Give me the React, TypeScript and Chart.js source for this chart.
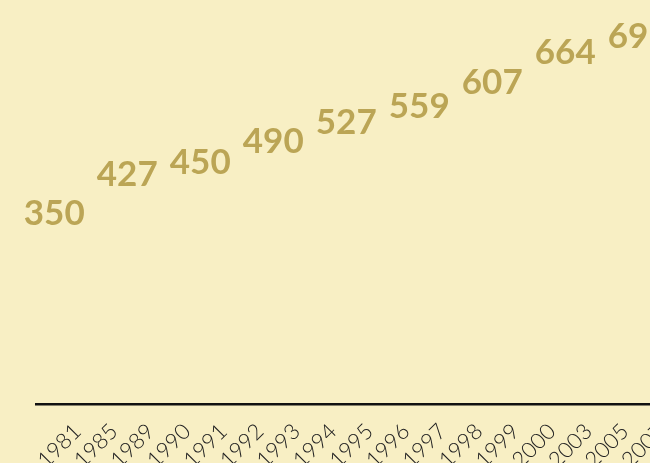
import React, { useEffect, useRef } from 'react';
import { Chart, registerables } from 'chart.js';

Chart.register(...registerables);

// Category labels (first category has no year label)
const years: string[] = ['', '1981', '1985', '1989', '1990', '1991', '1992', '1993', '1994', '1995', '1996', '1997', '1998', '1999', '2000', '2003', '2005', '2007'];
// Values shown as labels (null where no label is shown)
const values: (number | null)[] = [350, null, 427, null, 450, null, 490, null, 527, null, 559, null, 607, null, 664, null, 695, null];

const BG = '#F8EFC4';
const LABEL_COLOR = '#BBA555';
const AXIS_COLOR = '#111111';
const TICK_COLOR = '#222222';

const valueLabels = {
  id: 'valueLabels',
  afterDatasetsDraw(chart: any) {
    const ctx = chart.ctx;
    const meta = chart.getDatasetMeta(0);
    const xs = chart.scales.x;
    const step = xs.getPixelForValue(1) - xs.getPixelForValue(0);
    ctx.save();
    ctx.font = 'bold 35px Lato';
    ctx.fillStyle = LABEL_COLOR;
    ctx.textAlign = 'center';
    ctx.textBaseline = 'alphabetic';
    meta.data.forEach((el: any, i: number) => {
      const v = values[i];
      if (v == null) return;
      ctx.fillText(String(v), el.x + step * 0.5, el.y);
    });
    ctx.restore();
  },
};

export default function App() {
  const ref = useRef<HTMLCanvasElement | null>(null);
  useEffect(() => {
    if (!ref.current) return;
    const chart = new Chart(ref.current, {
      type: 'line',
      data: {
        labels: years,
        datasets: [
          {
            data: values,
            showLine: false,
            pointRadius: 0,
            borderColor: 'transparent',
            backgroundColor: 'transparent',
          },
        ],
      },
      options: {
        responsive: false,
        animation: false,
        layout: { padding: { left: 36, right: 43.5, top: 10, bottom: 0 } },
        plugins: { legend: { display: false }, tooltip: { enabled: false } },
        scales: {
          x: {
            grid: { display: false, drawTicks: false },
            border: { display: true, color: AXIS_COLOR, width: 2.5 },
            ticks: {
              color: TICK_COLOR,
              font: { family: 'Lato', size: 22, weight: '300' as any },
              minRotation: 45,
              maxRotation: 45,
              autoSkip: false,
              padding: 14,
              labelOffset: 5,
            },
            afterFit: (s: any) => {
              s.height = 58.5;
              s.paddingLeft = 0;
              s.paddingRight = 0;
            },
          },
          y: { display: false, min: 0, max: 770 },
        },
      },
      plugins: [valueLabels],
    });
    return () => chart.destroy();
  }, []);
  return (
    <div
      style={{
        position: 'fixed',
        left: 0,
        top: 0,
        width: 650,
        height: 463,
        overflow: 'hidden',
        background: BG,
      }}
    >
      <canvas ref={ref} width={700} height={463} style={{ display: 'block' }} />
    </div>
  );
}
